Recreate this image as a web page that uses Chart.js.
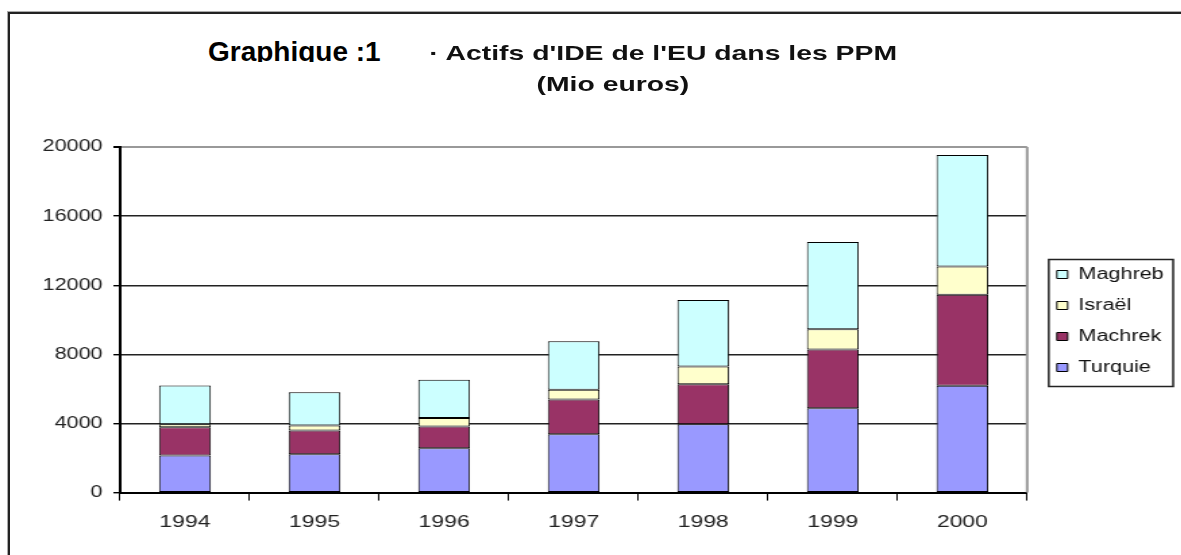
<!DOCTYPE html>
<html>
<head>
<meta charset="utf-8">
<script src="https://cdn.jsdelivr.net/npm/chart.js@4"></script>
<style>
  body { margin: 0; background: #fff; }
  #page { position: relative; width: 1181px; height: 555px; overflow: hidden; background: #fff; }
  #frame { position: absolute; left: 8px; top: 12px; right: -10px; bottom: -10px;
    border-left: 2px solid #222; border-top: 2px solid #222; box-shadow: -1px -1px 0 #aaa; }
  #fig-label { position: absolute; left: 208px; top: 38px; height: 24px; overflow: hidden;
    font: bold 28px "Liberation Sans", Arial, sans-serif; line-height: 28px; color: #000; white-space: nowrap; }
  /* le graphique d'origine est etire horizontalement */
  #stretch { position: absolute; left: 0; top: 0; width: 875px; height: 555px;
    transform: scaleX(1.35); transform-origin: 0 0; }
  .ttl { position: absolute; font: bold 21px "Liberation Sans", Arial, sans-serif; line-height: 21px;
    color: #111; white-space: nowrap; }
  #ttl1 { left: 318px; top: 42px; }
  #ttl2 { left: 354px; top: 73px; width: 200px; text-align: center; }
  canvas { position: absolute; left: 0; top: 0; }
</style>
</head>
<body>
<div id="page">
  <div id="frame"></div>
  <div id="fig-label">Graphique :1</div>
  <div id="stretch">
    <div class="ttl" id="ttl1">· Actifs d'IDE de l'EU dans les PPM</div>
    <div class="ttl" id="ttl2">(Mio euros)</div>
    <canvas id="chart" width="875" height="555"></canvas>
  </div>
</div>
<script>
// données (Mio euros)
const years = ["1994", "1995", "1996", "1997", "1998", "1999", "2000"];
const turquie = [2140, 2220, 2570, 3380, 3960, 4880, 6180];
const machrek = [1640, 1370, 1250, 2010, 2310, 3400, 5270];
const israel = [180, 290, 500, 560, 1030, 1180, 1640];
const maghreb = [2240, 1930, 2210, 2810, 3840, 5040, 6450];
const yMin = 0;
const yMax = 20000;
const yStep = 4000;

const font = "'Liberation Sans', Arial, sans-serif";

function serie(label, data, color) {
  return {
    label: label,
    data: data,
    backgroundColor: color,
    borderColor: "#000",
    borderWidth: 1,
    borderSkipped: false,
    barPercentage: 0.4,
    categoryPercentage: 1,
  };
}

// cadre gris à droite de la zone de tracé + cadre de la légende
const framePlugin = {
  id: "frames",
  afterLayout(chart) {
    // remonter un peu la légende, comme sur l'original
    const lg = chart.legend;
    lg.left += 7;
    lg.right += 7;
    lg.top -= 25;
    lg.bottom -= 25;
  },
  beforeDatasetsDraw(chart) {
    const { ctx, chartArea } = chart;
    ctx.save();
    ctx.strokeStyle = "#999";
    ctx.lineWidth = 2;
    ctx.beginPath();
    ctx.moveTo(chartArea.right, chartArea.top);
    ctx.lineTo(chartArea.right, chartArea.bottom);
    ctx.stroke();
    ctx.restore();
  },
  afterDraw(chart) {
    const boxes = chart.legend.legendHitBoxes;
    if (!boxes || !boxes.length) return;
    const ctx = chart.ctx;
    let l = Infinity, r = -Infinity, t = Infinity, b = -Infinity;
    boxes.forEach((h) => {
      l = Math.min(l, h.left);
      r = Math.max(r, h.left + h.width);
      t = Math.min(t, h.top);
      b = Math.max(b, h.top + h.height);
    });
    ctx.save();
    ctx.strokeStyle = "#222";
    ctx.lineWidth = 1.5;
    ctx.strokeRect(l - 6, t - 7, r - l + 13, b - t + 18);
    ctx.restore();
  },
};

const ctx = document.getElementById("chart").getContext("2d");
const chart = new Chart(ctx, {
  type: "bar",
  data: {
    labels: years,
    datasets: [
      serie("Turquie", turquie, "#9999FF"),
      serie("Machrek", machrek, "#993366"),
      serie("Israël", israel, "#FFFFCC"),
      serie("Maghreb", maghreb, "#CCFFFF"),
    ],
  },
  options: {
    responsive: false,
    animation: false,
    devicePixelRatio: 1,
    layout: { padding: { top: 147, left: 0, right: 10, bottom: 10 } },
    plugins: {
      title: { display: false },
      tooltip: { enabled: false },
      legend: {
        position: "right",
        reverse: true,
        labels: {
          color: "#111",
          font: { family: font, size: 16 },
          boxWidth: 8,
          boxHeight: 8,
          padding: 15,
        },
      },
    },
    scales: {
      x: {
        stacked: true,
        grid: {
          drawOnChartArea: false,
          drawTicks: true,
          tickLength: 8,
          color: "#000",
          offset: true,
        },
        border: { color: "#000", width: 2 },
        ticks: { color: "#222", font: { family: font, size: 17 }, padding: 12 },
      },
      y: {
        stacked: true,
        min: yMin,
        max: yMax,
        ticks: {
          stepSize: yStep,
          color: "#222",
          font: { family: font, size: 16 },
          padding: 8,
          callback: (v) => String(v),
        },
        grid: {
          color: (c) => (c.tick && c.tick.value === yMax ? "#999" : "#222"),
          lineWidth: (c) => (c.tick && c.tick.value === yMax ? 2 : 1.4),
          tickColor: "#000",
          tickLength: 5,
        },
        border: { color: "#000", width: 2 },
        afterFit: (scale) => {
          scale.width = 89;
        },
      },
    },
  },
  plugins: [framePlugin],
});
</script>
</body>
</html>
